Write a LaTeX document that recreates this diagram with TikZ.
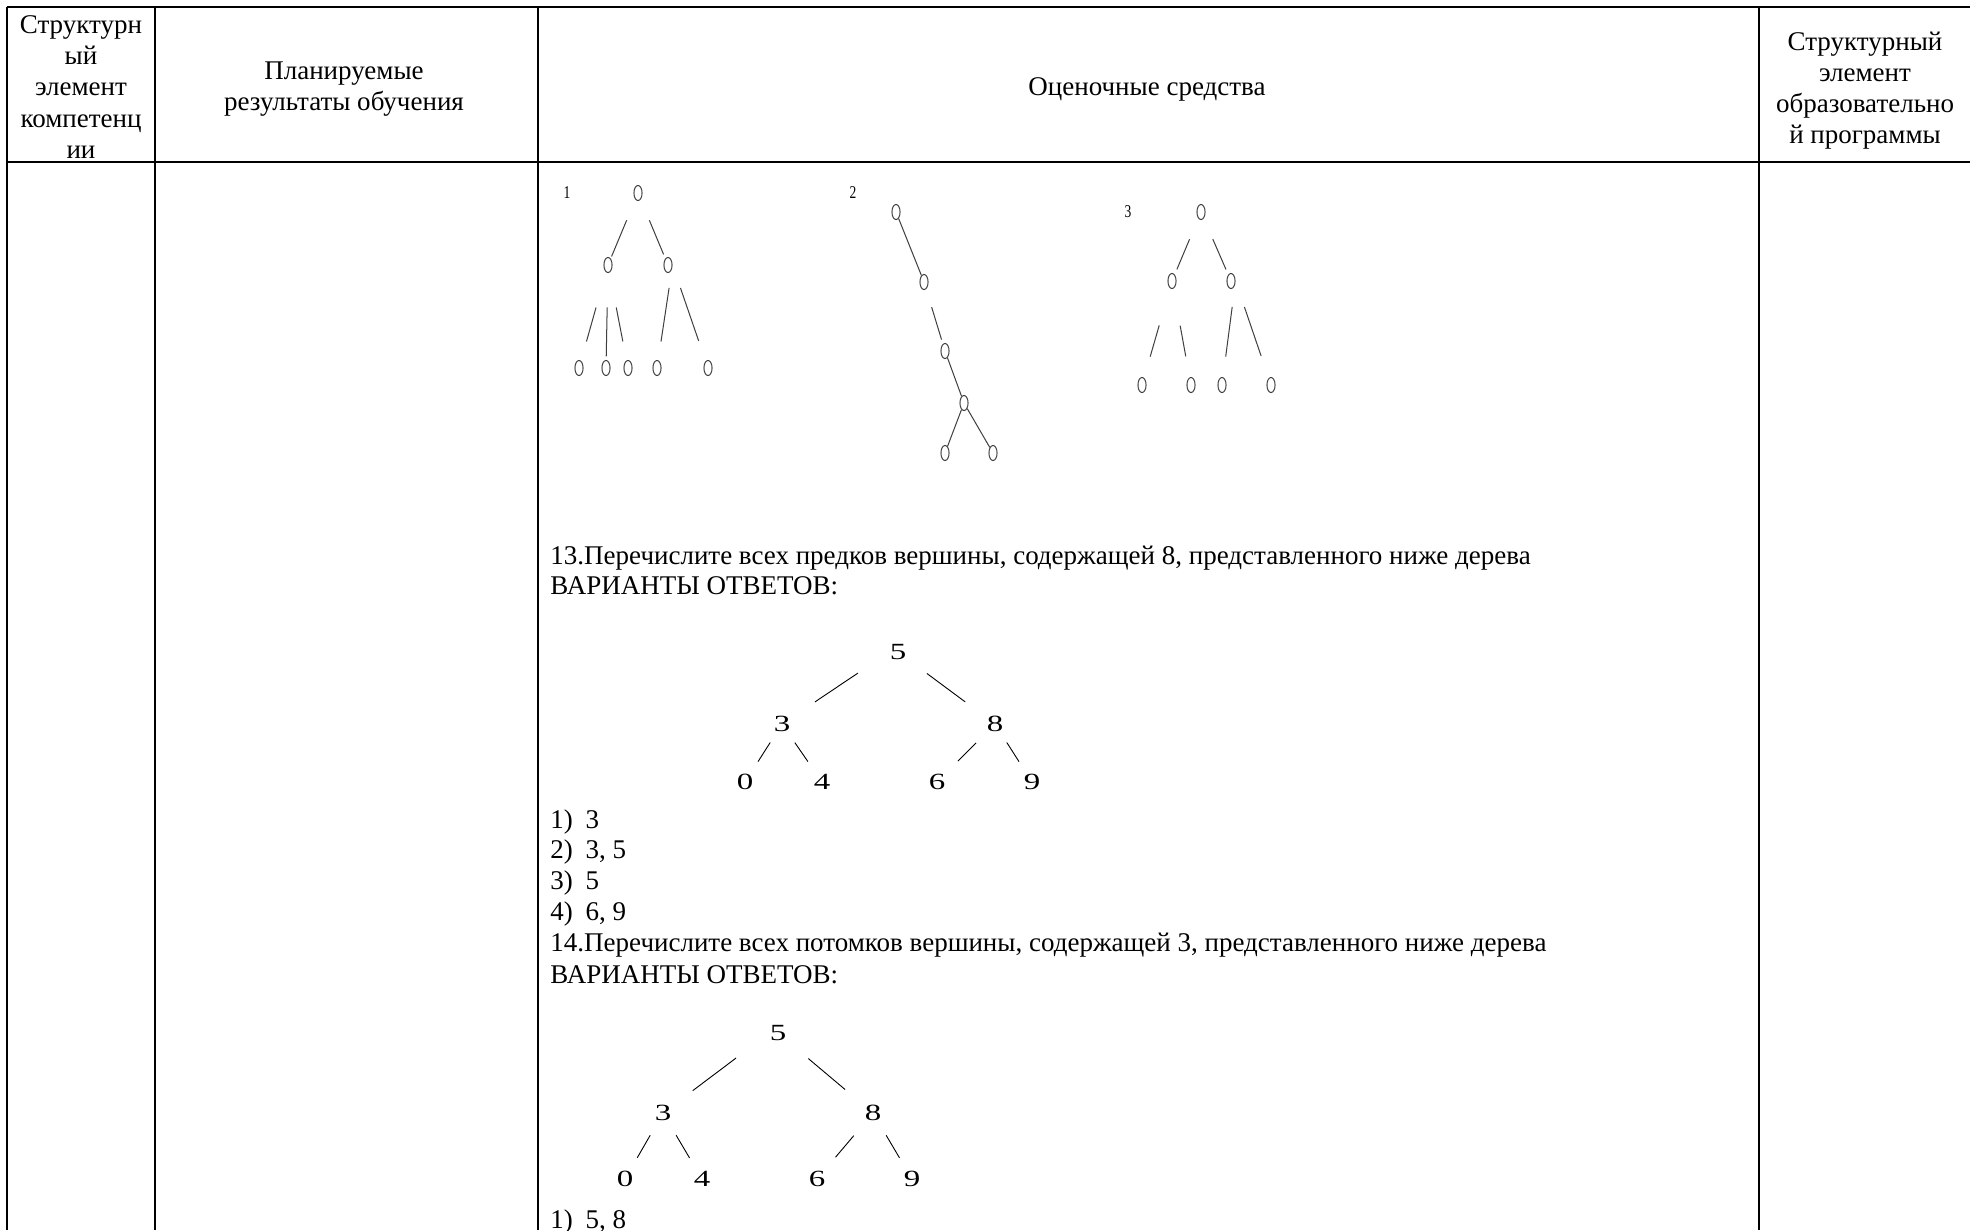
\documentclass[tikz,border=0pt]{standalone}
\usepackage{fontspec}
\setmainfont{Liberation Serif}
\newfontfamily\treefont[FakeStretch=1.42]{Liberation Serif}
\newfontfamily\labfont[FakeStretch=0.75]{Liberation Serif}
\usetikzlibrary{shapes.geometric}

\begin{document}
\begin{tikzpicture}[x=0.4444pt,y=-0.4444pt,
    rule/.style={line width=0.9pt},
    head/.style={align=center,inner sep=0pt,font=\fontsize{12}{13.8}\selectfont},
    txt/.style={anchor=base west,inner sep=0pt,font=\fontsize{12}{13.8}\selectfont},
    oval/.style={draw=black!75,ellipse,line width=0.45pt,minimum width=3.6pt,
                 minimum height=6.7pt,inner sep=0pt},
    twig/.style={draw=black!75,line width=0.45pt},
    num/.style={inner sep=0pt,font=\treefont\fontsize{10.3}{12}\selectfont},
    lab/.style={inner sep=0pt,font=\labfont\fontsize{8}{9}\selectfont}]
%
  \useasboundingbox (0,0) rectangle (1970,1230);
%
  % table
  \draw[rule] (7,7) -- (1970,7);
  \draw[rule] (7,162) -- (1970,162);
  \foreach \x in {7,155,538,1759}
    \draw[rule] (\x,7) -- (\x,1230);
%
  \node[head] (hcomp) at (81,87) {Структурн\\ый\\элемент\\компетенц\\ии};
  \node[head] (hres) at (344,89.5) {Планируемые\\результаты обучения};
  \node[head] (hsred) at (1147,89.5) {Оценочные средства};
  \node[head] (hprog) at (1865,90.5) {Структурный\\элемент\\образовательно\\й программы};
%
  % tree 1
  \node[lab] (t1) at (567,193) {1};
  \node[oval] (r1) at (638,193) {};
  \node[oval] (a1) at (608,265) {};
  \node[oval] (b1) at (668,265) {};
  \node[oval] (c1) at (579,368) {};
  \node[oval] (c2) at (606,368) {};
  \node[oval] (c3) at (628,368) {};
  \node[oval] (c4) at (657,368) {};
  \node[oval] (c5) at (708,368) {};
  \draw[twig,shorten <=10pt,shorten >=1pt] (r1) -- (a1);
  \draw[twig,shorten <=10pt,shorten >=2pt] (r1) -- (b1);
  \draw[twig,shorten <=16.3pt,shorten >=8.9pt] (a1) -- (c1);
  \draw[twig,shorten <=15.3pt,shorten >=1.6pt] (a1) -- (c2);
  \draw[twig,shorten <=15.8pt,shorten >=8.6pt] (a1) -- (c3);
  \draw[twig,shorten <=10.3pt,shorten >=8.4pt] (b1.east) -- (c4);
  \draw[twig,shorten <=10.8pt,shorten >=9.5pt] (b1.east) -- (c5);
%
  % tree 2
  \node[lab] (t2) at (853,193) {2};
  \node[oval] (d1) at (896,212) {};
  \node[oval] (d2) at (924,282) {};
  \node[oval] (d3) at (945,351) {};
  \node[oval] (d4) at (964,403) {};
  \node[oval] (d5) at (945,453) {};
  \node[oval] (d6) at (993,453) {};
  \draw[twig] (d1) -- (d2);
  \draw[twig,shorten <=8.4pt,shorten >=2pt] (d2) -- (d3);
  \draw[twig] (d3) -- (d4);
  \draw[twig] (d4) -- (d5);
  \draw[twig] (d4) -- (d6);
%
  % tree 3
  \node[lab] (t3) at (1128,212) {3};
  \node[oval] (e1) at (1201,212) {};
  \node[oval] (e2) at (1172,281) {};
  \node[oval] (e3) at (1231,281) {};
  \node[oval] (f1) at (1142,385) {};
  \node[oval] (f2) at (1191,385) {};
  \node[oval] (f3) at (1222,385) {};
  \node[oval] (f4) at (1271,385) {};
  \draw[twig,shorten <=10pt,shorten >=2.5pt] (e1) -- (e2);
  \draw[twig,shorten <=10pt,shorten >=2.5pt] (e1) -- (e3);
  \draw[twig,shorten <=17.2pt,shorten >=9.8pt] (e2) -- (f1);
  \draw[twig,shorten <=16.7pt,shorten >=9.5pt] (e2) -- (f2);
  \draw[twig,shorten <=11.6pt,shorten >=9.2pt] (e3.east) -- (f3);
  \draw[twig,shorten <=12.2pt,shorten >=10.4pt] (e3.east) -- (f4);
%
  % question 13
  \node[txt] (q13) at (550,564) {13.Перечислите всех предков вершины, содержащей 8, представленного ниже дерева};
  \node[txt] (v13) at (550,594) {ВАРИАНТЫ ОТВЕТОВ:};
  \node[num] (n5) at (898,652) {5};
  \node[num] (n3) at (782,724) {3};
  \node[num] (n8) at (995,724) {8};
  \node[num] (n0) at (745,782) {0};
  \node[num] (n4) at (822,782) {4};
  \node[num] (n6) at (937,782) {6};
  \node[num] (n9) at (1032,782) {9};
  \draw[shorten <=16.8pt,shorten >=13pt] (n5.west) -- (n3);
  \draw[shorten <=11.2pt,shorten >=11.7pt] (n5) -- (n8);
  \draw[shorten <=5.4pt,shorten >=6.4pt] (n3) -- (n0);
  \draw[shorten <=5.6pt,shorten >=6.7pt] (n3) -- (n4);
  \draw[shorten <=6.7pt,shorten >=8pt] (n8) -- (n6);
  \draw[shorten <=5.4pt,shorten >=6.4pt] (n8) -- (n9);
  \foreach \k/\v [count=\i] in {1)/3, {2)/3, 5}, 3)/5, {4)/6, 9}}
    \node[txt] (ans\i) at (550,{828+(\i-1)*30.7}) {\makebox[15.6pt][l]{\k}\v};
%
  % question 14
  \node[txt] (q14) at (550,951) {14.Перечислите всех потомков вершины, содержащей 3, представленного ниже дерева};
  \node[txt] (v14) at (550,983) {ВАРИАНТЫ ОТВЕТОВ:};
  \node[num] (m5) at (778,1033) {5};
  \node[num] (m3) at (663,1113) {3};
  \node[num] (m8) at (873,1113) {8};
  \node[num] (m0) at (625,1179) {0};
  \node[num] (m4) at (702,1179) {4};
  \node[num] (m6) at (817,1179) {6};
  \node[num] (m9) at (912,1179) {9};
  \draw[shorten <=18.5pt,shorten >=11.7pt] (m5.west) -- (m3);
  \draw[shorten <=12.6pt,shorten >=11.2pt] (m5) -- (m8);
  \draw[shorten <=7.2pt,shorten >=6.7pt] (m3) -- (m0);
  \draw[shorten <=7.2pt,shorten >=6.7pt] (m3) -- (m4);
  \draw[shorten <=8.4pt,shorten >=7.9pt] (m8) -- (m6);
  \draw[shorten <=7.2pt,shorten >=6.7pt] (m8) -- (m9);
  \node[txt] (ans14) at (550,1228) {\makebox[15.6pt][l]{1)}5, 8};
%
\end{tikzpicture}
\end{document}
